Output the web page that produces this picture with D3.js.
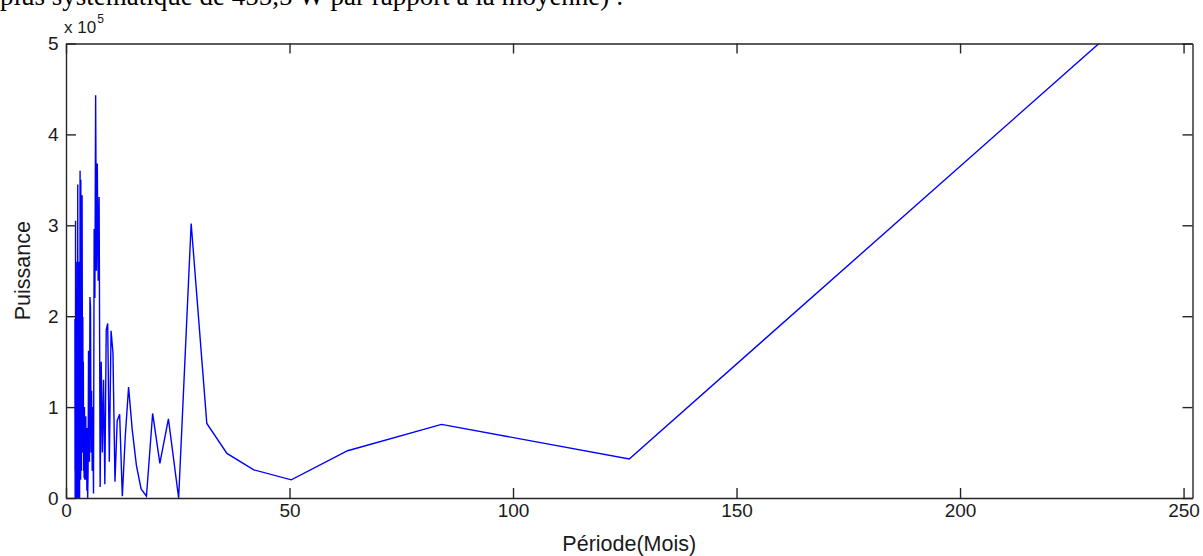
<!DOCTYPE html>
<html>
<head>
<meta charset="utf-8">
<script src="https://cdn.jsdelivr.net/npm/d3@7"></script>
<style>
  html, body { margin: 0; padding: 0; background: #fff; overflow: hidden; }
  svg { display: block; }
  .tick text { font-family: "Liberation Sans", Arial, sans-serif; fill: #1a1a1a; }
</style>
</head>
<body>
<div id="chart"></div>
<script>
// ---- data (power spectrum, x 10^5) ----
const periods = [252,126,84,63,50.4,42,36,31.5,28,25.2,
  22.91,21,19.38,18,16.8,15.75,14.82,14,13.26,12.6,
  12,11.45,10.96,10.5,10.08,9.69,9.33,9,8.69,8.4,
  8.13,7.88,7.64,7.41,7.2,7,6.81,6.63,6.46,6.3,
  6.15,6,5.86,5.73,5.6,5.48,5.36,5.25,5.14,5.04,
  4.94,4.85,4.75,4.67,4.58,4.5,4.42,4.34,4.27,4.2,
  4.13,4.06,4,3.94,3.88,3.82,3.76,3.71,3.65,3.6,
  3.55,3.5,3.45,3.41,3.36,3.32,3.27,3.23,3.19,3.15,
  3.11,3.07,3.04,3,2.96,2.93,2.9,2.86,2.83,2.8,
  2.77,2.74,2.71,2.68,2.65,2.63,2.6,2.57,2.55,2.52,
  2.5,2.47,2.45,2.42,2.4,2.38,2.36,2.33,2.31,2.29,
  2.27,2.25,2.23,2.21,2.19,2.17,2.15,2.14,2.12,2.1,
  2.08,2.07,2.05,2.03,2.02,2];

const puissance = [5.91,0.43,0.81,0.52,0.20,0.31,0.49,0.82,3.02,0.0,
  0.87,0.38,0.93,0.02,0.10,0.36,0.75,1.22,0.68,0.02,
  0.92,0.85,0.18,1.60,1.84,0.40,1.92,1.85,0.15,1.30,
  0.50,1.50,0.12,3.31,2.39,3.68,2.50,4.43,2.20,2.96,
  0.05,1.00,0.30,1.18,0.50,2.10,2.21,0.40,1.53,1.62,
  0.30,0.0,0.77,0.08,0.77,0.30,0.90,0.20,0.60,0.20,
  1.00,0.22,0.80,0.30,1.50,0.60,1.99,0.50,2.00,3.33,
  0.80,2.30,0.30,2.50,1.00,3.50,0.20,2.60,1.20,3.60,
  0.40,2.20,0.0,2.00,0.60,2.60,0.10,1.80,0.50,2.30,
  0.0,1.60,0.30,2.00,0.80,3.45,0.20,2.40,0.0,1.90,
  0.70,2.60,0.10,1.50,0.30,2.20,0.0,1.20,0.50,2.00,
  0.05,1.70,0.20,2.30,0.0,1.97,0.40,3.05,0.0,1.80,
  0.20,1.97,0.0,1.40,0.30,1.97];

const xTicks = [0, 50, 100, 150, 200, 250];
const yTicks = [0, 1, 2, 3, 4, 5];
const xLabel = "Période(Mois)";
const yLabel = "Puissance";
const captionText = "plus systématique de 455,5 W par rapport à la moyenne) :";

// ---- layout ----
const W = 1203, H = 556;
const mLeft = 66, mRight = 1192.5, mTop = 43.5, mBottom = 498;

const svg = d3.select("#chart").append("svg")
  .attr("width", W).attr("height", H);

const x = d3.scaleLinear().domain([0, 252]).range([mLeft, mRight]);
const y = d3.scaleLinear().domain([0, 5]).range([mBottom, mTop]);

// caption fragment at the very top (cut off by the picture's edge, as in the source)
svg.append("text")
  .attr("x", 0).attr("y", 5)
  .attr("font-family", "'Liberation Serif', 'Times New Roman', serif")
  .attr("font-size", 27)
  .attr("fill", "#000")
  .text(captionText);

svg.append("clipPath").attr("id", "clip")
  .append("rect")
  .attr("x", mLeft).attr("y", mTop)
  .attr("width", mRight - mLeft).attr("height", mBottom - mTop);

// data line
const pts = periods.map((p, i) => ({ p, v: puissance[i] }));
const line = d3.line().x(d => x(d.p)).y(d => y(d.v));
svg.append("path")
  .datum(pts)
  .attr("clip-path", "url(#clip)")
  .attr("fill", "none")
  .attr("stroke", "#0000ff")
  .attr("stroke-width", 1.4)
  .attr("stroke-linejoin", "miter")
  .attr("d", line);

const axisColor = "#262626";
function styleAxis(g) {
  g.selectAll("path.domain").attr("stroke", axisColor).attr("stroke-width", 1.4);
  g.selectAll(".tick line").attr("stroke", axisColor).attr("stroke-width", 1.4);
}

const tickFont = 19;
const fmt = d3.format("d");
svg.append("g").attr("transform", `translate(0,${mBottom})`)
  .call(d3.axisBottom(x).tickValues(xTicks).tickFormat(fmt).tickSizeInner(-10).tickSizeOuter(0).tickPadding(6))
  .call(g => g.selectAll("text").attr("font-size", tickFont))
  .call(styleAxis);
svg.append("g").attr("transform", `translate(0,${mTop})`)
  .call(d3.axisTop(x).tickValues(xTicks).tickSizeInner(-10).tickSizeOuter(0).tickFormat(""))
  .call(styleAxis);
svg.append("g").attr("transform", `translate(${mLeft},0)`)
  .call(d3.axisLeft(y).tickValues(yTicks).tickFormat(fmt).tickSizeInner(-10).tickSizeOuter(0).tickPadding(7.5))
  .call(g => g.selectAll("text").attr("font-size", tickFont))
  .call(styleAxis);
svg.append("g").attr("transform", `translate(${mRight},0)`)
  .call(d3.axisRight(y).tickValues(yTicks).tickSizeInner(-10).tickSizeOuter(0).tickFormat(""))
  .call(styleAxis);

// exponent label
const expo = svg.append("text")
  .attr("x", 64).attr("y", 33)
  .attr("font-family", "'Liberation Sans', Arial, sans-serif")
  .attr("font-size", 17).attr("fill", "#1a1a1a");
expo.append("tspan").text("x 10");
expo.append("tspan").attr("font-size", 12).attr("dy", -10).attr("dx", 1).text("5");

// axis titles
svg.append("text")
  .attr("x", (mLeft + mRight) / 2).attr("y", 551)
  .attr("text-anchor", "middle")
  .attr("font-family", "'Liberation Sans', Arial, sans-serif")
  .attr("font-size", 21.5).attr("fill", "#1a1a1a")
  .text(xLabel);

svg.append("text")
  .attr("transform", `translate(30,${(mTop + mBottom) / 2}) rotate(-90)`)
  .attr("text-anchor", "middle")
  .attr("font-family", "'Liberation Sans', Arial, sans-serif")
  .attr("font-size", 21.5).attr("fill", "#1a1a1a")
  .text(yLabel);
</script>
</body>
</html>
